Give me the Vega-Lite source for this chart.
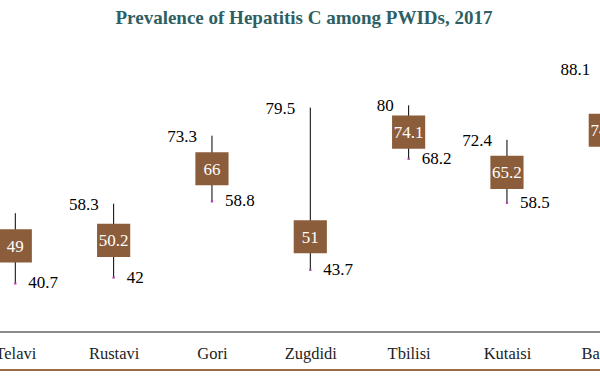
{
  "$schema": "https://vega.github.io/schema/vega-lite/v6.json",
  "width": 600,
  "height": 339,
  "autosize": {"type": "none"},
  "padding": {"left": 0, "right": 0, "top": 31, "bottom": 22},
  "background": "white",
  "title": {
    "text": "Prevalence of Hepatitis C among PWIDs, 2017",
    "font": "Liberation Serif",
    "fontSize": 19,
    "fontWeight": "bold",
    "color": "#2f5f63",
    "anchor": "middle",
    "frame": "group",
    "dx": 4,
    "offset": 3.5
  },
  "data": {
    "values": [
      {"city": "Telavi", "min": 40.7, "max": 56.2, "median": 49},
      {"city": "Rustavi", "min": 42, "max": 58.3, "median": 50.2},
      {"city": "Gori", "min": 58.8, "max": 73.3, "median": 66},
      {"city": "Zugdidi", "min": 43.7, "max": 79.5, "median": 51},
      {"city": "Tbilisi", "min": 68.2, "max": 80, "median": 74.1},
      {"city": "Kutaisi", "min": 58.5, "max": 72.4, "median": 65.2},
      {"city": "Batumi", "min": 61, "max": 88.1, "median": 74.5}
    ]
  },
  "layer": [
    {
      "mark": {"type": "rule", "color": "#8c8c8c", "strokeWidth": 1},
      "encoding": {
        "y": {"datum": 30, "type": "quantitative", "scale": {"domain": [21.6, 96.4], "nice": false, "zero": false}, "axis": null}
      }
    },
    {
      "mark": {"type": "rule", "color": "#9c6a45", "strokeWidth": 1},
      "encoding": {
        "y": {"datum": 21.6, "type": "quantitative"}
      }
    },
    {
      "encoding": {
        "x": {"field": "city", "type": "nominal", "sort": null,
              "scale": {"type": "point", "range": [15.3, 605.3], "padding": 0},
              "axis": {"title": null, "orient": "bottom", "offset": -37.5, "ticks": false,
                       "domain": false,
                       "labelFont": "Liberation Serif", "labelFontSize": 16.5, "labelColor": "#222222",
                       "labelPadding": 13, "labelAngle": 0, "grid": false, "labelOverlap": false}}
      },
      "layer": [
        {
          "mark": {"type": "rule", "color": "#000000", "strokeWidth": 1},
          "encoding": {
            "y": {"field": "min", "type": "quantitative"},
            "y2": {"field": "max"}
          }
        },
        {
          "mark": {"type": "point", "shape": "square", "filled": true, "size": 5, "color": "#b040b0", "opacity": 1},
          "encoding": {
            "y": {"field": "min", "type": "quantitative"}
          }
        },
        {
          "mark": {"type": "point", "shape": "square", "filled": true, "size": 1100, "color": "#8b5d3b", "opacity": 1},
          "encoding": {
            "y": {"field": "median", "type": "quantitative"}
          }
        },
        {
          "mark": {"type": "text", "font": "Liberation Serif", "fontSize": 17, "color": "#ffffff", "baseline": "middle", "align": "center", "dy": 1},
          "encoding": {
            "y": {"field": "median", "type": "quantitative"},
            "text": {"field": "median", "type": "quantitative"}
          }
        },
        {
          "mark": {"type": "text", "font": "Liberation Serif", "fontSize": 17, "color": "#000000", "baseline": "middle", "align": "right", "dx": -15, "dy": 1},
          "encoding": {
            "y": {"field": "max", "type": "quantitative"},
            "text": {"field": "max", "type": "quantitative"}
          }
        },
        {
          "mark": {"type": "text", "font": "Liberation Serif", "fontSize": 17, "color": "#000000", "baseline": "middle", "align": "left", "dx": 13, "dy": 0},
          "encoding": {
            "y": {"field": "min", "type": "quantitative"},
            "text": {"field": "min", "type": "quantitative"}
          }
        }
      ]
    }
  ],
  "config": {
    "view": {"stroke": null}
  }
}
